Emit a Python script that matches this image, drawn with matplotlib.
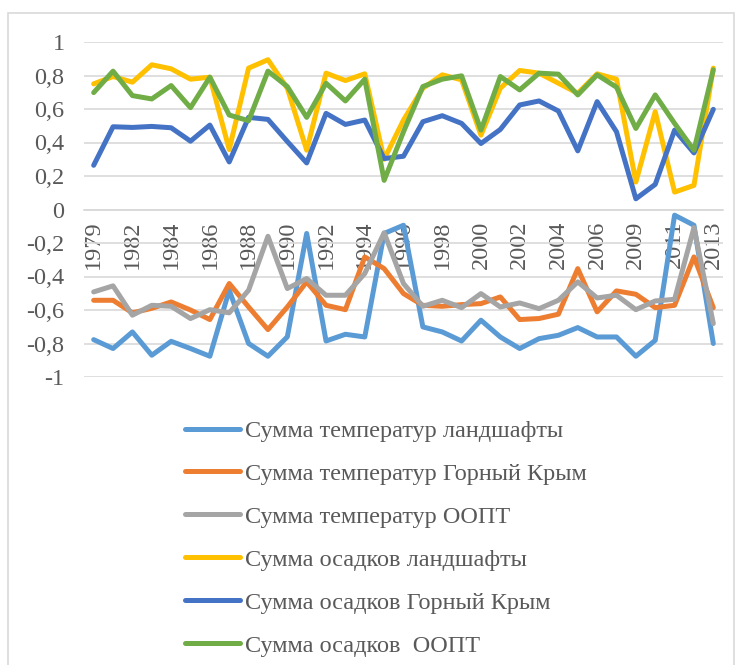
import matplotlib
matplotlib.use("Agg")
import matplotlib.pyplot as plt
from matplotlib.patches import Rectangle

plt.rcParams['font.family'] = ['Liberation Serif', 'DejaVu Serif']

years = ["1979", "1980", "1982", "1983", "1984", "1985", "1986", "1987", "1988", "1989",
         "1990", "1991", "1992", "1993", "1994", "1995", "1996", "1997", "1998", "1999",
         "2000", "2001", "2002", "2003", "2004", "2005", "2006", "2008", "2009", "2010",
         "2011", "2012", "2013"]

temp_landscape = [-0.777, -0.83, -0.731, -0.87, -0.787, -0.83, -0.876, -0.482, -0.80, -0.876,
                  -0.76, -0.143, -0.785, -0.745, -0.761, -0.143, -0.094, -0.701, -0.731, -0.785,
                  -0.661, -0.761, -0.83, -0.771, -0.751, -0.705, -0.761, -0.761, -0.876, -0.781,
                  -0.034, -0.094, -0.80]
temp_crimea = [-0.542, -0.542, -0.617, -0.59, -0.552, -0.60, -0.657, -0.442, -0.582, -0.717,
               -0.582, -0.432, -0.572, -0.598, -0.283, -0.353, -0.502, -0.572, -0.578, -0.568,
               -0.562, -0.522, -0.657, -0.651, -0.625, -0.353, -0.611, -0.486, -0.506, -0.586,
               -0.572, -0.283, -0.586]
temp_oopt = [-0.492, -0.456, -0.631, -0.572, -0.578, -0.651, -0.598, -0.617, -0.482, -0.16,
             -0.472, -0.412, -0.512, -0.512, -0.382, -0.139, -0.442, -0.578, -0.542, -0.586,
             -0.502, -0.582, -0.558, -0.592, -0.542, -0.432, -0.528, -0.512, -0.598, -0.546,
             -0.536, -0.108, -0.681]
prec_landscape = [0.75, 0.794, 0.76, 0.864, 0.84, 0.778, 0.79, 0.358, 0.844, 0.894,
                  0.724, 0.354, 0.814, 0.77, 0.81, 0.30, 0.534, 0.724, 0.804, 0.774,
                  0.444, 0.724, 0.83, 0.814, 0.754, 0.694, 0.81, 0.778, 0.164, 0.584,
                  0.104, 0.144, 0.844]
prec_crimea = [0.264, 0.494, 0.49, 0.496, 0.488, 0.408, 0.504, 0.284, 0.55, 0.538,
               0.406, 0.278, 0.574, 0.508, 0.534, 0.304, 0.318, 0.524, 0.56, 0.514,
               0.394, 0.478, 0.624, 0.648, 0.588, 0.35, 0.644, 0.464, 0.064, 0.15,
               0.474, 0.338, 0.598]
prec_oopt = [0.698, 0.826, 0.68, 0.66, 0.74, 0.608, 0.79, 0.564, 0.53, 0.826,
             0.734, 0.55, 0.754, 0.648, 0.778, 0.174, 0.464, 0.734, 0.778, 0.798,
             0.474, 0.794, 0.714, 0.814, 0.808, 0.684, 0.804, 0.73, 0.484, 0.684,
             0.514, 0.354, 0.834]

series = [
    ("Сумма температур ландшафты", temp_landscape, "#5B9BD5"),
    ("Сумма температур Горный Крым", temp_crimea, "#ED7D31"),
    ("Сумма температур ООПТ", temp_oopt, "#A5A5A5"),
    ("Сумма осадков ландшафты", prec_landscape, "#FFC000"),
    ("Сумма осадков Горный Крым", prec_crimea, "#4472C4"),
    ("Сумма осадков  ООПТ", prec_oopt, "#70AD47"),
]

W, H = 737, 665
FS = 17.5
fig = plt.figure(figsize=(W / 100, H / 100), dpi=100)
fig.patches.append(Rectangle((8 / W, -0.01), (734 - 8) / W, 1.01 - 13 / H,
                             transform=fig.transFigure, fill=False,
                             edgecolor="#D9D9D9", linewidth=1.2))

ax = fig.add_axes([84 / W, 1 - 377 / H, (723 - 84) / W, (377 - 42) / H])
x = list(range(len(years)))
for label, vals, col in series:
    ax.plot(x, vals, color=col, linewidth=3.6, label=label, solid_capstyle='round',
            solid_joinstyle='round')

ax.set_xlim(-0.5, len(years) - 0.5)
ax.set_ylim(-1, 1)
yt = [-1, -0.8, -0.6, -0.4, -0.2, 0, 0.2, 0.4, 0.6, 0.8, 1]
ax.set_yticks(yt)
ax.set_yticklabels([("%g" % v).replace(".", ",") for v in yt])
ax.grid(axis='y', color="#D9D9D9", linewidth=1.2)
ax.set_axisbelow(True)
for s in ["top", "right", "left"]:
    ax.spines[s].set_visible(False)
ax.spines["bottom"].set_position(("data", 0))
ax.spines["bottom"].set_color("#D9D9D9")
ax.spines["bottom"].set_linewidth(1.2)

xt = x[::2]
ax.set_xticks(xt)
ax.set_xticklabels([years[i] for i in xt], rotation=90, va='top', ha='center')
ax.tick_params(axis='x', length=0, pad=8, labelsize=FS, labelcolor="#595959")
ax.tick_params(axis='y', length=0, pad=14, labelsize=FS, labelcolor="#595959")

leg = fig.legend(loc='upper left', bbox_to_anchor=(185 / W, 1 - 420 / H),
                 frameon=False, fontsize=FS, handlelength=2.26, handletextpad=0.2,
                 labelspacing=0.86, borderpad=0, borderaxespad=0)
for t in leg.get_texts():
    t.set_color("#595959")
for l in leg.get_lines():
    l.set_linewidth(3.6)

fig.savefig("out.png", dpi=100)
